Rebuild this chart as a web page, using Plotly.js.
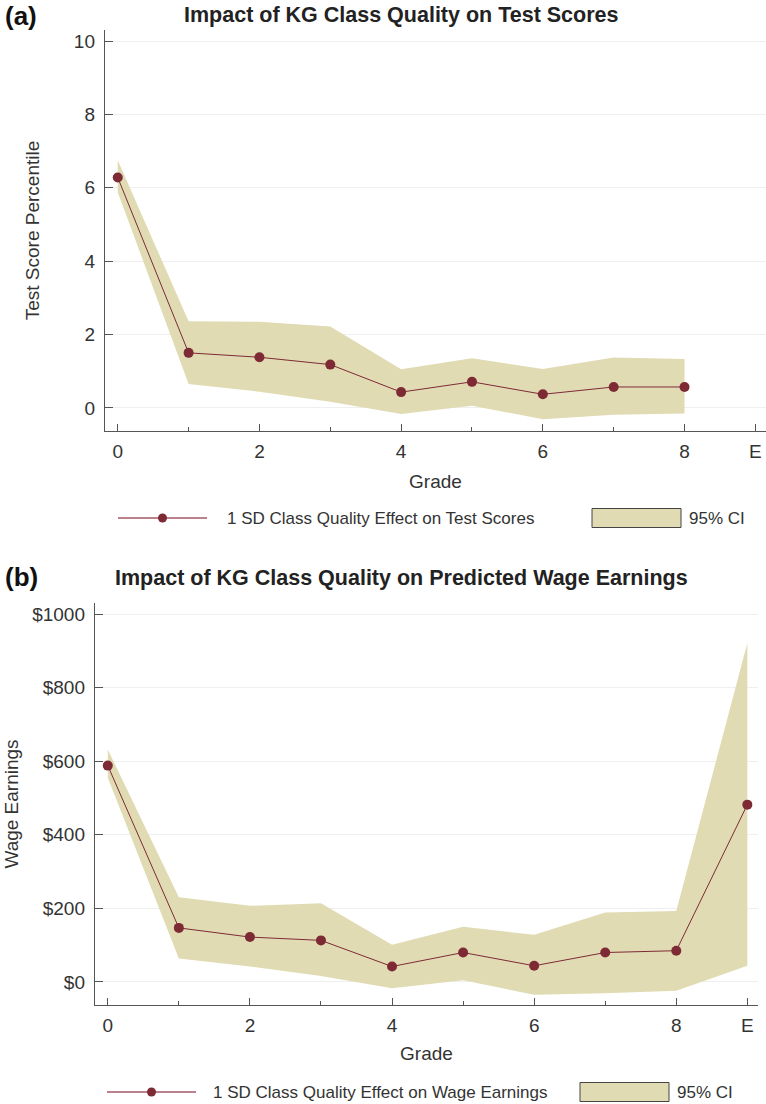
<!DOCTYPE html>
<html><head><meta charset="utf-8">
<script src="https://cdn.plot.ly/plotly-3.0.1.min.js"></script>
<style>html,body{margin:0;padding:0;background:#fff}#chart{width:766px;height:1104px}</style>
</head><body><div id="chart"></div>
<script>
// Grades (E = earnings, plotted at position 9)
const gradesA = [0,1,2,3,4,5,6,7,8];
const scoreEffect = [6.28,1.50,1.38,1.18,0.43,0.71,0.37,0.57,0.57];
const scoreUpper = [6.75,2.36,2.35,2.22,1.05,1.35,1.06,1.37,1.33];
const scoreLower = [5.88,0.65,0.44,0.17,-0.17,0.06,-0.31,-0.19,-0.15];

const gradesB = [0,1,2,3,4,5,6,7,8,9];
const wageEffect = [588,147,122,113,42,80,44,80,85,482];
const wageUpper = [632,230,207,214,101,150,128,189,193,921];
const wageLower = [555,64,42,16,-17,5,-35,-31,-24,44];

const xTickVals = [0,2,4,6,8,9];
const xTickText = ['0','2','4','6','8','E'];
const yTickValsA = [0,2,4,6,8,10];
const yTickValsB = [0,200,400,600,800,1000];
const yTickTextB = ['$0','$200','$400','$600','$800','$1000'];

const W = 766, H = 1104;
const px = x => x / W, py = y => 1 - y / H;

const ciColor = '#e0dbb3';
const ptColor = '#7e2a35';
const txt = '#333333';
const font = 'Liberation Sans, Arial, sans-serif';

function band(xs, up, lo, xa, ya, name) {
  return {x: xs.concat(xs.slice().reverse()), y: up.concat(lo.slice().reverse()),
    type:'scatter', mode:'lines', fill:'toself', fillcolor:ciColor,
    line:{width:0, color:ciColor}, xaxis:xa, yaxis:ya, name:name, showlegend:false, hoverinfo:'skip'};
}
function pts(xs, ys, xa, ya, name) {
  return {x:xs, y:ys, type:'scatter', mode:'lines+markers',
    line:{color:ptColor, width:1}, marker:{color:ptColor, size:10},
    xaxis:xa, yaxis:ya, name:name, showlegend:false};
}

const data = [
  band(gradesA, scoreUpper, scoreLower, 'x', 'y', '95% CI'),
  pts(gradesA, scoreEffect, 'x', 'y', '1 SD Class Quality Effect on Test Scores'),
  band(gradesB, wageUpper, wageLower, 'x2', 'y2', '95% CI'),
  pts(gradesB, wageEffect, 'x2', 'y2', '1 SD Class Quality Effect on Wage Earnings')
];

function xAxis(domain, anchor, standoff) {
  return {domain:domain, anchor:anchor, range:[-0.18, 9.15], tickmode:'array',
    tickvals:xTickVals, ticktext:xTickText, ticks:'inside', ticklen:7, tickcolor:'#555',
    minor:{tickvals:[1,3,5,7], ticks:'inside', ticklen:4, tickcolor:'#555', showgrid:false},
    showline:true, linecolor:'#555', linewidth:1.2, showgrid:false, zeroline:false,
    ticklabelstandoff:3,
    tickfont:{size:19, color:txt, family:font}, automargin:false,
    title:{text:'Grade', font:{size:19, color:txt, family:font}, standoff:standoff}};
}
function yAxis(domain, anchor, range, vals, text, title, standoff) {
  const a = {domain:domain, anchor:anchor, range:range, tickmode:'array', tickvals:vals,
    ticks:'inside', ticklen:8, tickcolor:'#555', showline:true, linecolor:'#555', linewidth:1.2,
    showgrid:true, gridcolor:'#efefef', gridwidth:1, zeroline:false, ticklabelstandoff:5,
    tickfont:{size:19, color:txt, family:font}, automargin:false,
    title:{text:title, font:{size:19, color:txt, family:font}, standoff:standoff}};
  if (text) a.ticktext = text;
  return a;
}

const shapes = [], annotations = [];
function legend(yc, lx0, lx1, tx, bx0, bx1, bt, label) {
  shapes.push({type:'line', xref:'paper', yref:'paper', x0:px(lx0), x1:px(lx1), y0:py(yc), y1:py(yc),
    line:{color:'#a45866', width:1.3}});
  const mx = (lx0 + lx1) / 2;
  shapes.push({type:'circle', xref:'paper', yref:'paper', x0:px(mx-4.5), x1:px(mx+4.5), y0:py(yc+4.5), y1:py(yc-4.5),
    fillcolor:ptColor, line:{color:ptColor, width:0}});
  annotations.push({xref:'paper', yref:'paper', x:px(tx), y:py(yc), xanchor:'left', yanchor:'middle',
    text:label, showarrow:false, font:{size:17, color:txt, family:font}});
  shapes.push({type:'rect', xref:'paper', yref:'paper', x0:px(bx0), x1:px(bx1), y0:py(yc+9.5), y1:py(yc-9.5),
    fillcolor:ciColor, line:{color:'#444', width:1}});
  annotations.push({xref:'paper', yref:'paper', x:px(bt), y:py(yc), xanchor:'left', yanchor:'middle',
    text:'95% CI', showarrow:false, font:{size:17, color:txt, family:font}});
}
legend(518, 118, 207, 225, 592, 681, 687, '1 SD Class Quality Effect on Test Scores');
legend(1092, 107, 196, 211, 580, 669, 675, '1 SD Class Quality Effect on Wage Earnings');

annotations.push({xref:'paper', yref:'paper', x:px(3), y:py(16), xanchor:'left', yanchor:'middle',
  text:'<b>(a)</b>', showarrow:false, font:{size:26, color:'#111', family:font}});
annotations.push({xref:'paper', yref:'paper', x:px(3), y:py(577), xanchor:'left', yanchor:'middle',
  text:'<b>(b)</b>', showarrow:false, font:{size:26, color:'#111', family:font}});
annotations.push({xref:'paper', yref:'paper', x:px(402), y:py(15), xanchor:'center', yanchor:'middle',
  text:'<b>Impact of KG Class Quality on Test Scores</b>', showarrow:false, font:{size:21.5, color:'#222', family:font}});
annotations.push({xref:'paper', yref:'paper', x:px(402), y:py(578), xanchor:'center', yanchor:'middle',
  text:'<b>Impact of KG Class Quality on Predicted Wage Earnings</b>', showarrow:false, font:{size:21.5, color:'#222', family:font}});

const layout = {
  width:W, height:H, margin:{l:0, r:0, t:0, b:0}, paper_bgcolor:'#fff', plot_bgcolor:'#fff',
  showlegend:false, font:{family:font, color:txt},
  xaxis: xAxis([px(105), 1], 'y', 13),
  yaxis: yAxis([py(431), py(30)], 'x', [-0.63, 10.3], yTickValsA, null, 'Test Score Percentile', 29),
  xaxis2: xAxis([px(95), px(758)], 'y2', 11),
  yaxis2: yAxis([py(1005), py(603)], 'x2', [-62.6, 1030], yTickValsB, yTickTextB, 'Wage Earnings', 8),
  shapes:shapes, annotations:annotations
};
Plotly.newPlot('chart', data, layout, {displayModeBar:false, staticPlot:true});
</script></body></html>
